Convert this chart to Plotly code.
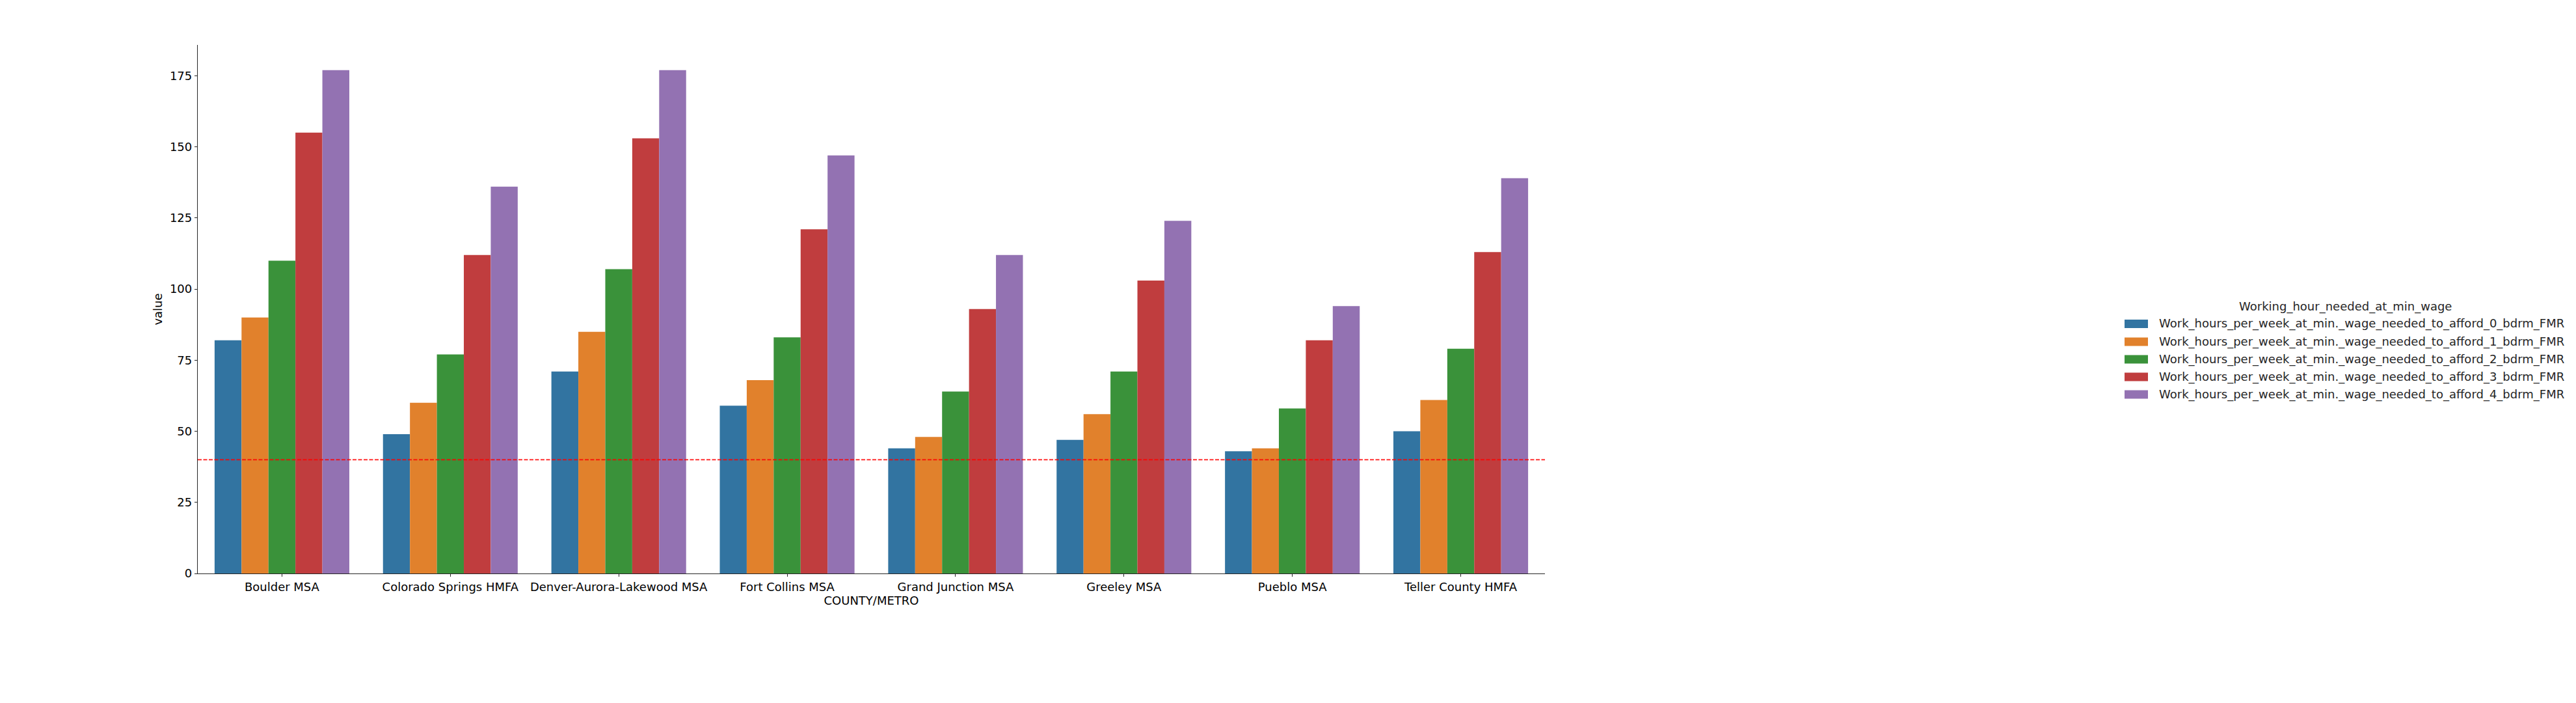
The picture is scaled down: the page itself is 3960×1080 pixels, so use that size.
import plotly.graph_objects as go

categories = ["Boulder MSA", "Colorado Springs HMFA", "Denver-Aurora-Lakewood MSA",
              "Fort Collins MSA", "Grand Junction MSA", "Greeley MSA", "Pueblo MSA",
              "Teller County HMFA"]

series_names = [
    "Work_hours_per_week_at_min._wage_needed_to_afford_0_bdrm_FMR",
    "Work_hours_per_week_at_min._wage_needed_to_afford_1_bdrm_FMR",
    "Work_hours_per_week_at_min._wage_needed_to_afford_2_bdrm_FMR",
    "Work_hours_per_week_at_min._wage_needed_to_afford_3_bdrm_FMR",
    "Work_hours_per_week_at_min._wage_needed_to_afford_4_bdrm_FMR",
]

bdrm0 = [82, 49, 71, 59, 44, 47, 43, 50]
bdrm1 = [90, 60, 85, 68, 48, 56, 44, 61]
bdrm2 = [110, 77, 107, 83, 64, 71, 58, 79]
bdrm3 = [155, 112, 153, 121, 93, 103, 82, 113]
bdrm4 = [177, 136, 177, 147, 112, 124, 94, 139]
series_values = [bdrm0, bdrm1, bdrm2, bdrm3, bdrm4]

y_ticks = [0, 25, 50, 75, 100, 125, 150, 175]
threshold = 40

legend_title = "Working_hour_needed_at_min_wage"
colors = ["#3274a1", "#e1812c", "#3a923a", "#c03d3e", "#9372b2"]

W, H = 3960, 1080
L, R, T, B = 304, 2375, 69, 881
FONT = "DejaVu Sans"
INK = "#262626"

fig = go.Figure()
for name, vals, col in zip(series_names, series_values, colors):
    fig.add_trace(go.Bar(x=categories, y=vals, name=name, marker_color=col,
                         marker_line_width=0, showlegend=False))

def px_to_paper_x(px):
    return (px - L) / (R - L)

def px_to_paper_y(py):
    return (B - py) / (B - T)

shapes = [dict(type="line", xref="paper", x0=0, x1=1, yref="y", y0=threshold, y1=threshold,
               line=dict(color="rgba(255,0,0,0.8)", width=2, dash="6px,2.5px"), layer="above")]
annotations = [dict(text=legend_title, xref="paper", yref="paper",
                    x=px_to_paper_x(3605), y=px_to_paper_y(471), xanchor="center", yanchor="middle",
                    showarrow=False, font=dict(family=FONT, size=18, color=INK))]
row_y = [497.5, 525, 552, 579, 606]
for name, col, ry in zip(series_names, colors, row_y):
    shapes.append(dict(type="rect", xref="paper", yref="paper",
                       x0=px_to_paper_x(3266), x1=px_to_paper_x(3302),
                       y0=px_to_paper_y(ry - 6.5), y1=px_to_paper_y(ry + 6.5),
                       fillcolor=col, line=dict(width=0)))
    annotations.append(dict(text=name, xref="paper", yref="paper",
                            x=px_to_paper_x(3317), y=px_to_paper_y(ry), xanchor="left", yanchor="middle",
                            showarrow=False, font=dict(family=FONT, size=18, color=INK)))

fig.update_layout(
    width=W, height=H,
    margin=dict(l=L, r=W - R, t=T, b=H - B, pad=0),
    paper_bgcolor="white", plot_bgcolor="white",
    barmode="group", bargap=0.2, bargroupgap=0,
    font=dict(family=FONT, size=18, color=INK),
    shapes=shapes, annotations=annotations,
    xaxis=dict(type="category", range=[-0.5, len(categories) - 0.5],
               showline=True, linecolor=INK, linewidth=1.25, mirror=False,
               ticks="outside", ticklen=4, tickwidth=1.25, tickcolor=INK,
               showgrid=False, zeroline=False,
               tickfont=dict(family=FONT, size=18, color="black"),
               title=dict(text="COUNTY/METRO", standoff=4,
                          font=dict(family=FONT, size=18, color="black"))),
    yaxis=dict(range=[0, 185.85], tickvals=y_ticks,
               showline=True, linecolor=INK, linewidth=1.25,
               ticks="outside", ticklen=4, tickwidth=1.25, tickcolor=INK,
               showgrid=False, zeroline=False,
               tickfont=dict(family=FONT, size=18, color="black"),
               title=dict(text="value", standoff=6,
                          font=dict(family=FONT, size=18, color="black"))),
)

fig.write_html("out.html",
               config={"displayModeBar": False},
               post_script="document.body.style.margin='0';document.body.style.overflow='hidden';")
